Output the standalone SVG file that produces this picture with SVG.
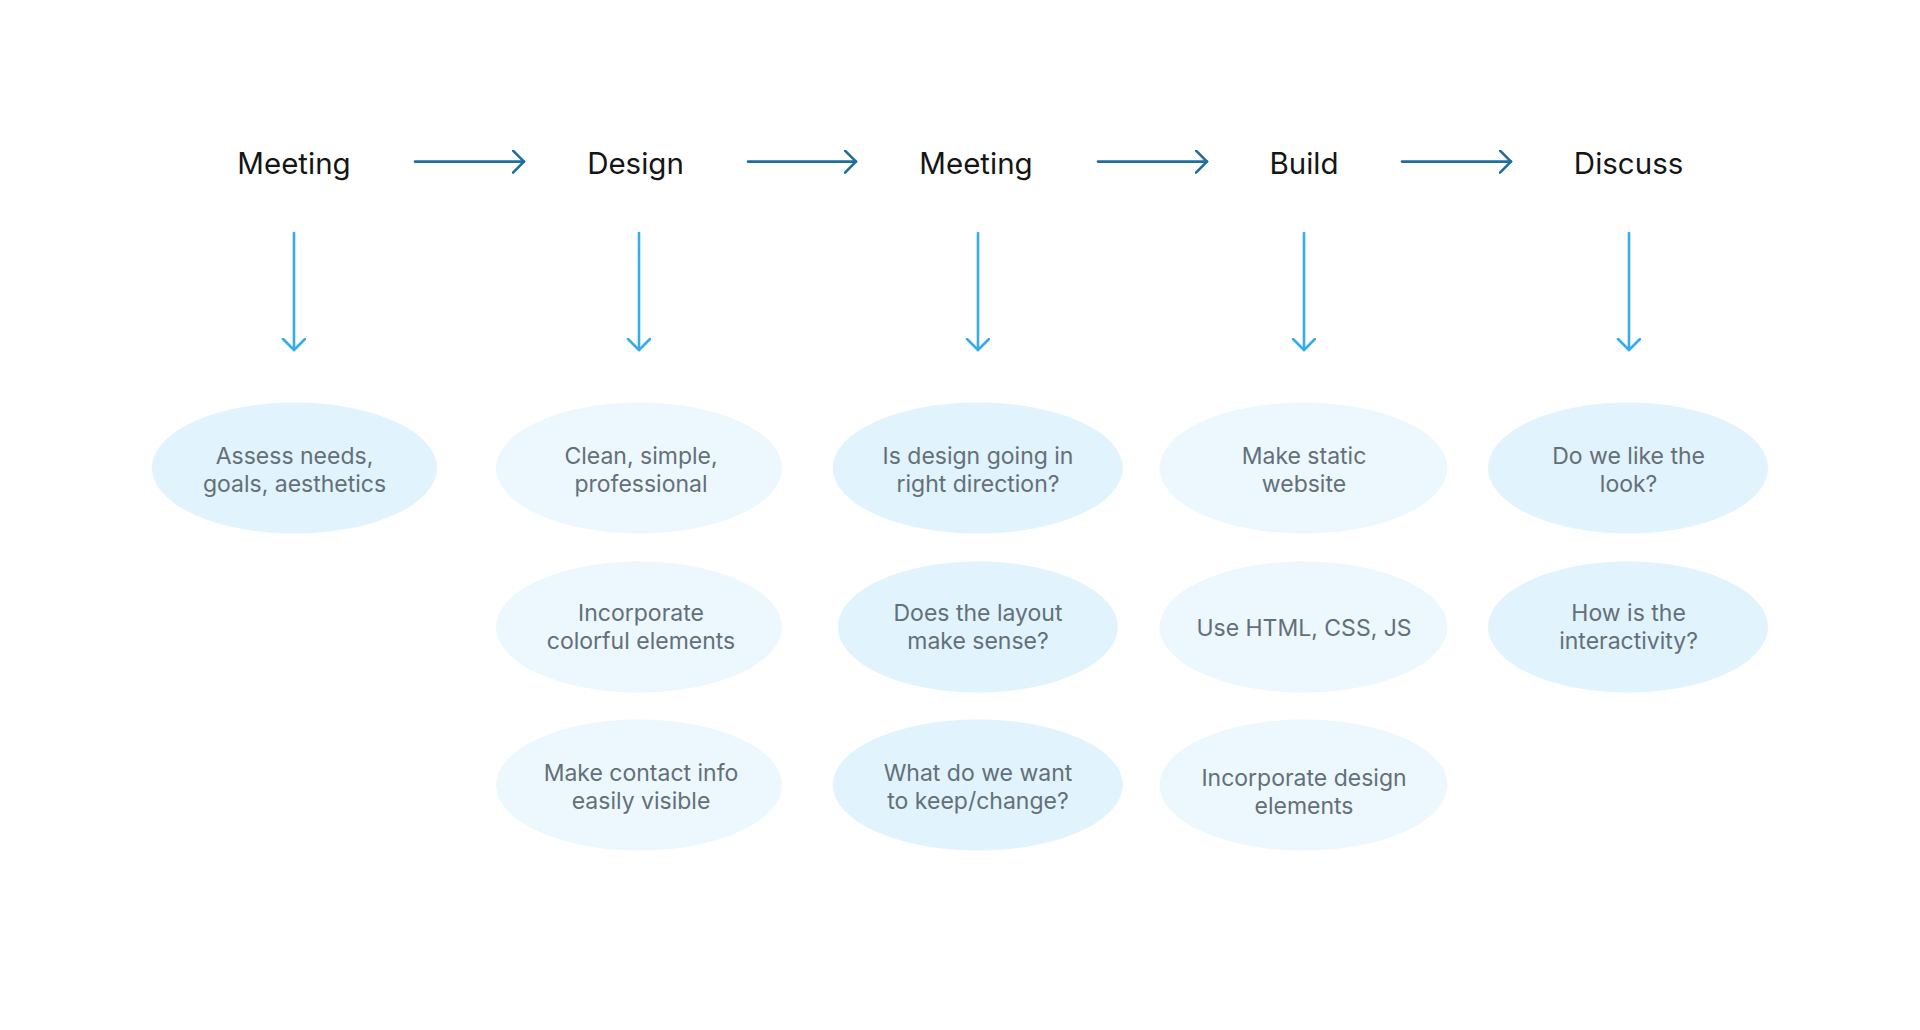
<svg xmlns="http://www.w3.org/2000/svg" width="1920" height="1030" viewBox="0 0 1920 1030">
<style>
.title{font-family:Inter,"Liberation Sans",sans-serif;font-size:29.5px;fill:#151515;text-anchor:middle}
.lbl{font-family:Inter,"Liberation Sans",sans-serif;font-size:23px;fill:#646f78;text-anchor:middle}
.dark{fill:#e1f3fc}
.light{fill:#ecf8fe}
.h{stroke:#1f6e9e;stroke-width:2.6;fill:none;stroke-linecap:round}
.v{stroke:#36ade9;stroke-width:2.6;fill:none;stroke-linecap:round}
</style>
<defs>
<marker id="ah" markerUnits="userSpaceOnUse" markerWidth="30" markerHeight="30" refX="12" refY="12" orient="auto" viewBox="0 0 30 30">
<path d="M1,1 L12,12 L1,23" fill="none" stroke="#1f6e9e" stroke-width="2.6" stroke-linecap="round" stroke-linejoin="round"/>
</marker>
<marker id="av" markerUnits="userSpaceOnUse" markerWidth="30" markerHeight="30" refX="12" refY="12" orient="auto" viewBox="0 0 30 30">
<path d="M1,1 L12,12 L1,23" fill="none" stroke="#36ade9" stroke-width="2.6" stroke-linecap="round" stroke-linejoin="round"/>
</marker>
</defs>
<rect width="1920" height="1030" fill="#ffffff"/>
<g id="connectors">
<line class="h" x1="415" y1="161.6" x2="524" y2="161.6" marker-end="url(#ah)"/>
<line class="h" x1="748" y1="161.6" x2="856" y2="161.6" marker-end="url(#ah)"/>
<line class="h" x1="1098" y1="161.6" x2="1207" y2="161.6" marker-end="url(#ah)"/>
<line class="h" x1="1402" y1="161.6" x2="1511" y2="161.6" marker-end="url(#ah)"/>
<line class="v" x1="294" y1="233" x2="294" y2="350" marker-end="url(#av)"/>
<line class="v" x1="639" y1="233" x2="639" y2="350" marker-end="url(#av)"/>
<line class="v" x1="978" y1="233" x2="978" y2="350" marker-end="url(#av)"/>
<line class="v" x1="1304" y1="233" x2="1304" y2="350" marker-end="url(#av)"/>
<line class="v" x1="1629" y1="233" x2="1629" y2="350" marker-end="url(#av)"/>
</g>
<g id="t1"><text class="title" x="294" y="173.5">Meeting</text></g>
<g id="t2"><text class="title" x="635.5" y="173.5">Design</text></g>
<g id="t3"><text class="title" x="976" y="173.5">Meeting</text></g>
<g id="t4"><text class="title" x="1304" y="173.5">Build</text></g>
<g id="t5"><text class="title" x="1628.6" y="173.5">Discuss</text></g>

<g id="n1"><ellipse class="dark" cx="294.5" cy="468" rx="142.6" ry="65.5"/><text class="lbl" x="294.5" y="463.5">Assess needs,</text><text class="lbl" x="294.5" y="491.7">goals, aesthetics</text></g>

<g id="n2"><ellipse class="light" cx="639" cy="468" rx="143" ry="65.5"/><text class="lbl" x="641" y="463.5">Clean, simple,</text><text class="lbl" x="641" y="491.7">professional</text></g>
<g id="n3"><ellipse class="light" cx="639" cy="627" rx="143" ry="65.5"/><text class="lbl" x="641" y="621">Incorporate</text><text class="lbl" x="641" y="649">colorful elements</text></g>
<g id="n4"><ellipse class="light" cx="639" cy="785" rx="143" ry="65.5"/><text class="lbl" x="641" y="780.7">Make contact info</text><text class="lbl" x="641" y="808.8">easily visible</text></g>

<g id="n5"><ellipse class="dark" cx="977.8" cy="468" rx="145" ry="65.5"/><text class="lbl" x="978" y="463.5">Is design going in</text><text class="lbl" x="978" y="491.7">right direction?</text></g>
<g id="n6"><ellipse class="dark" cx="977.8" cy="627" rx="140" ry="65.5"/><text class="lbl" x="978" y="621">Does the layout</text><text class="lbl" x="978" y="649">make sense?</text></g>
<g id="n7"><ellipse class="dark" cx="977.8" cy="785" rx="145" ry="65.5"/><text class="lbl" x="978" y="780.7">What do we want</text><text class="lbl" x="978" y="808.8">to keep/change?</text></g>

<g id="n8"><ellipse class="light" cx="1303.5" cy="468" rx="144" ry="65.5"/><text class="lbl" x="1304" y="463.5">Make static</text><text class="lbl" x="1304" y="491.7">website</text></g>
<g id="n9"><ellipse class="light" cx="1303.5" cy="627" rx="144" ry="65.5"/><text class="lbl" x="1304" y="636">Use HTML, CSS, JS</text></g>
<g id="n10"><ellipse class="light" cx="1303.5" cy="785" rx="144" ry="65.5"/><text class="lbl" x="1304" y="785.6">Incorporate design</text><text class="lbl" x="1304" y="813.7">elements</text></g>

<g id="n11"><ellipse class="dark" cx="1628" cy="468" rx="140" ry="65.5"/><text class="lbl" x="1628.6" y="463.5">Do we like the</text><text class="lbl" x="1628.6" y="491.7">look?</text></g>
<g id="n12"><ellipse class="dark" cx="1628" cy="627" rx="140" ry="65.5"/><text class="lbl" x="1628.6" y="621">How is the</text><text class="lbl" x="1628.6" y="649">interactivity?</text></g>
</svg>
